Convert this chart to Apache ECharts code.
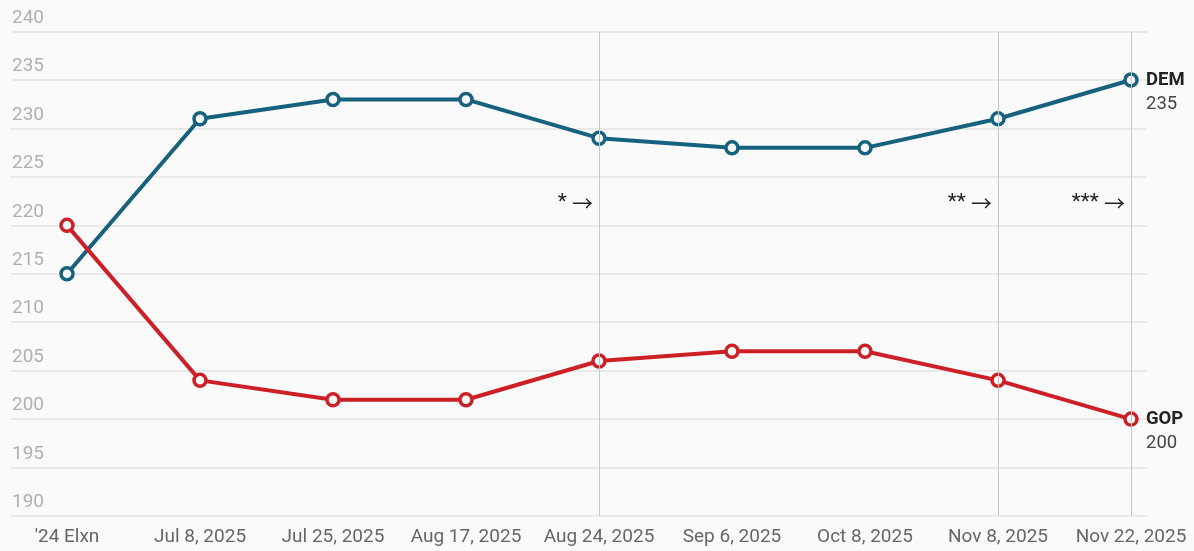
<!DOCTYPE html>
<html>
<head>
<meta charset="utf-8">
<script src="https://cdn.jsdelivr.net/npm/echarts@6/dist/echarts.min.js"></script>
<style>
  html, body { margin: 0; padding: 0; background: #fafafa; }
  #container { width: 1194px; height: 551px; }
</style>
</head>
<body>
<div id="container"></div>
<script>
const categories = ["'24 Elxn", 'Jul 8, 2025', 'Jul 25, 2025', 'Aug 17, 2025', 'Aug 24, 2025', 'Sep 6, 2025', 'Oct 8, 2025', 'Nov 8, 2025', 'Nov 22, 2025']
const demValues = [215, 231, 233, 233, 229, 228, 228, 231, 235]
const gopValues = [220, 204, 202, 202, 206, 207, 207, 204, 200]
const yTicks = [190, 195, 200, 205, 210, 215, 220, 225, 230, 235, 240]
// notes shown left of the vertical marker lines
const noteDates = ['Aug 24, 2025', 'Nov 8, 2025', 'Nov 22, 2025']
const noteStars = ['*', '**', '***']
const noteLevel = 222.3

const yMin = yTicks[0]
const yMax = yTicks[yTicks.length - 1]
const font = 'Roboto, "Noto Sans", sans-serif'
const demColor = '#16617e'
const gopColor = '#cc1f26'

let chartDom = document.getElementById('container')
let myChart = echarts.init(chartDom, null, { renderer: 'canvas' })

function endLabel(name) {
  return {
    show: true,
    distance: 15,
    align: 'left',
    verticalAlign: 'top',
    offset: [0, -12],
    formatter: p => '{a|' + name + '}\n{b|' + p.value + '}',
    rich: {
      a: { fontSize: 18.5, fontWeight: 'bold', color: '#222', fontFamily: font, lineHeight: 24 },
      b: { fontSize: 18.5, color: '#444', fontFamily: font, lineHeight: 24 }
    }
  }
}

let option = {
  backgroundColor: '#fafafa',
  animation: false,
  textStyle: { fontFamily: font },
  grid: [
    // wide grid only for the horizontal rules and y labels
    { left: 11, right: 47, top: 31.6, bottom: 35 },
    // data grid
    { left: 67, right: 63, top: 31.6, bottom: 35 }
  ],
  xAxis: [
    { gridIndex: 0, type: 'value', min: 0, max: 1, show: false },
    {
      gridIndex: 1,
      type: 'category',
      data: categories,
      boundaryGap: false,
      axisLine: { show: false },
      axisTick: { show: false },
      splitLine: { show: false },
      axisLabel: {
        color: '#666',
        fontSize: 19,
        fontFamily: font,
        margin: 12,
        interval: 0
      }
    }
  ],
  yAxis: [
    {
      gridIndex: 0,
      type: 'value',
      min: yMin,
      max: yMax,
      interval: 5,
      axisLine: { show: false },
      axisTick: { show: false },
      splitLine: { show: true, lineStyle: { color: '#e3e3e3', width: 1.5 } },
      axisLabel: {
        inside: true,
        color: '#b0b0b0',
        fontSize: 19,
        fontFamily: font,
        verticalAlign: 'bottom',
        margin: 1,
        padding: [0, 0, 4, 0]
      }
    },
    {
      gridIndex: 1,
      type: 'value',
      min: yMin,
      max: yMax,
      interval: 5,
      show: false
    }
  ],
  series: [
    {
      name: 'DEM',
      type: 'line',
      xAxisIndex: 1,
      yAxisIndex: 1,
      data: demValues,
      lineStyle: { width: 4, color: demColor },
      symbol: 'circle',
      symbolSize: 12,
      itemStyle: { color: '#fafafa', borderColor: demColor, borderWidth: 3.5 },
      z: 3,
      endLabel: endLabel('DEM'),
      markLine: {
        silent: true,
        symbol: 'none',
        label: { show: false },
        lineStyle: { color: '#c8c8c8', width: 1, type: 'solid' },
        data: noteDates.map(d => ({ xAxis: d }))
      },
      markPoint: {
        silent: true,
        symbol: 'circle',
        symbolSize: 0,
        label: {
          show: true,
          position: 'left',
          distance: 6,
          rich: {
            s: { color: '#222', fontSize: 21, fontFamily: font },
            r: { color: '#222', fontSize: 21, fontFamily: '"Noto Sans CJK SC", sans-serif' }
          }
        },
        data: noteDates.map((d, i) => ({
          coord: [d, noteLevel],
          label: { formatter: '{s|' + noteStars[i] + ' }{r|→}' }
        }))
      }
    },
    {
      name: 'GOP',
      type: 'line',
      xAxisIndex: 1,
      yAxisIndex: 1,
      data: gopValues,
      lineStyle: { width: 4, color: gopColor },
      symbol: 'circle',
      symbolSize: 12,
      itemStyle: { color: '#fafafa', borderColor: gopColor, borderWidth: 3.5 },
      z: 3,
      endLabel: endLabel('GOP')
    }
  ]
}

option && myChart.setOption(option)
</script>
</body>
</html>
